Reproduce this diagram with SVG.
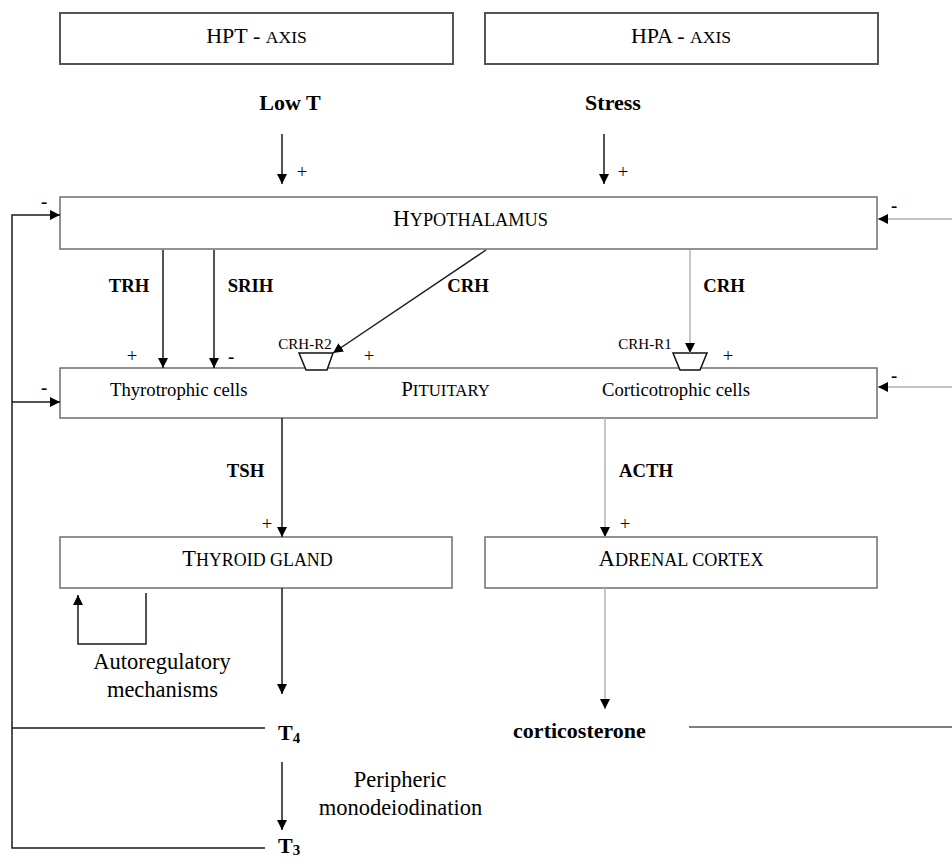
<svg xmlns="http://www.w3.org/2000/svg" width="952" height="860" viewBox="0 0 952 860">
<defs>
<marker id="ah" viewBox="0 0 10 10" refX="10" refY="5" markerWidth="10" markerHeight="10" markerUnits="userSpaceOnUse" orient="auto">
<path d="M0,0 L10,5 L0,10 z" fill="#000"/>
</marker>
<style>
text{font-family:"Liberation Serif","Times New Roman",serif;fill:#000}
.box{fill:#fff;stroke:#6e6e6e;stroke-width:1.5}
.axis{fill:#fff;stroke:#555;stroke-width:2}
.cap{font-size:21px}
.sc{font-size:16.8px}
.reg{font-size:18.7px}
.big{font-size:22.5px}
.b{font-weight:bold;font-size:18.7px}
.bb{font-weight:bold;font-size:22px}
.small{font-size:15px}
.sign{font-size:18.7px;text-anchor:middle}
.neg{font-size:18.7px;font-weight:bold;text-anchor:middle}
.mid{text-anchor:middle}
.ln{fill:none;stroke:#1a1a1a;stroke-width:1.5}
.gl{fill:none;stroke:#b3b3b3;stroke-width:1.5}
.fb{fill:none;stroke:#888;stroke-width:1.2}
.arr{marker-end:url(#ah)}
.rec{fill:#fff;stroke:#111;stroke-width:1.5}
</style>
</defs>
<rect width="952" height="860" fill="#fff"/>

<g id="hpt-axis">
<rect class="axis" x="60" y="13" width="393" height="51"/>
<text class="mid" x="256.5" y="43"><tspan style="font-size:22px">HPT - </tspan><tspan style="font-size:17.6px">AXIS</tspan></text>
</g>
<g id="hpa-axis">
<rect class="axis" x="485" y="13" width="393" height="51"/>
<text class="mid" x="681" y="43"><tspan style="font-size:22px">HPA - </tspan><tspan style="font-size:17.6px">AXIS</tspan></text>
</g>
<g id="low-t"><text class="bb mid" x="290" y="110">Low T</text></g>
<g id="stress"><text class="bb mid" x="613" y="110">Stress</text></g>

<g id="hypothalamus">
<rect class="box" x="60" y="197" width="817" height="52"/>
<text class="mid" x="470.5" y="226"><tspan style="font-size:23px">H</tspan><tspan style="font-size:18.3px">YPOTHALAMUS</tspan></text>
</g>

<g id="pituitary">
<rect class="box" x="60" y="368" width="817" height="50"/>
<text class="reg" x="110" y="396">Thyrotrophic cells</text>
<text class="mid" x="445.5" y="396"><tspan class="cap">P</tspan><tspan class="sc">ITUITARY</tspan></text>
<text class="reg mid" x="676" y="396">Corticotrophic cells</text>
</g>

<g id="crh-r2">
<polygon class="rec" points="299,353 333,353 327,370 306,370"/>
<text class="small mid" x="305" y="349">CRH-R2</text>
</g>
<g id="crh-r1">
<polygon class="rec" points="673,353 707,353 700,370 680,370"/>
<text class="small mid" x="645" y="349">CRH-R1</text>
</g>

<g id="thyroid">
<rect class="box" x="60" y="537" width="392" height="51"/>
<text class="mid" x="257.5" y="566"><tspan style="font-size:22.4px">T</tspan><tspan style="font-size:17.9px">HYROID GLAND</tspan></text>
</g>
<g id="adrenal">
<rect class="box" x="485" y="537" width="392" height="51"/>
<text class="mid" x="681" y="566"><tspan style="font-size:22.7px">A</tspan><tspan style="font-size:18.1px">DRENAL CORTEX</tspan></text>
</g>

<g id="autoregulatory">
<text class="big mid" x="162" y="669">Autoregulatory</text>
<text class="big mid" x="162.5" y="697">mechanisms</text>
</g>
<g id="t4"><text class="bb" x="278" y="740">T<tspan style="font-size:15px" dy="3">4</tspan></text></g>
<g id="t3"><text class="bb" x="278" y="853">T<tspan style="font-size:15px" dy="2">3</tspan></text></g>
<g id="corticosterone"><text class="bb mid" x="579.5" y="738">corticosterone</text></g>
<g id="peripheric">
<text class="big mid" x="400" y="787">Peripheric</text>
<text class="big mid" x="400.5" y="815">monodeiodination</text>
</g>

<g id="connectors">
<path class="ln arr" d="M282,134 V184"/>
<path class="ln arr" d="M604,134 V184"/>
<path class="ln arr" d="M265,848 H12 V215 H60"/>
<path class="ln arr" d="M12,402 H60"/>
<path class="ln" d="M265,728 H12"/>
<path class="fb arr" d="M952,219 H878"/>
<path class="fb arr" d="M952,387 H878"/>
<path class="ln" d="M689,727 H952" style="stroke:#555"/>
<path class="ln arr" d="M163,250 V368"/>
<path class="ln arr" d="M214,250 V368"/>
<path class="ln arr" d="M486,250 L333,353"/>
<path class="gl arr" d="M690,250 V353"/>
<path class="ln arr" d="M282,418 V537"/>
<path class="gl arr" d="M605,418 V537"/>
<path class="ln arr" d="M282,588 V694"/>
<path class="gl arr" d="M605,588 V709"/>
<path class="ln arr" d="M282,762 V830"/>
<path class="ln arr" d="M146,593 V644 H78 V595"/>

<text class="sign" x="302" y="178">+</text>
<text class="sign" x="623" y="178">+</text>
<text class="neg" x="44" y="208">-</text>
<text class="neg" x="44" y="394">-</text>
<text class="neg" x="894" y="212">-</text>
<text class="neg" x="894" y="382">-</text>
<text class="sign" x="132" y="362">+</text>
<text class="neg" x="231" y="363">-</text>
<text class="sign" x="369" y="362">+</text>
<text class="sign" x="728" y="362">+</text>
<text class="sign" x="267" y="530">+</text>
<text class="sign" x="625" y="530">+</text>

<text class="b mid" x="129" y="292">TRH</text>
<text class="b mid" x="250.5" y="292">SRIH</text>
<text class="b mid" x="468" y="292">CRH</text>
<text class="b mid" x="724" y="292">CRH</text>
<text class="b mid" x="245.5" y="477">TSH</text>
<text class="b mid" x="646" y="477">ACTH</text>
</g>
</svg>
